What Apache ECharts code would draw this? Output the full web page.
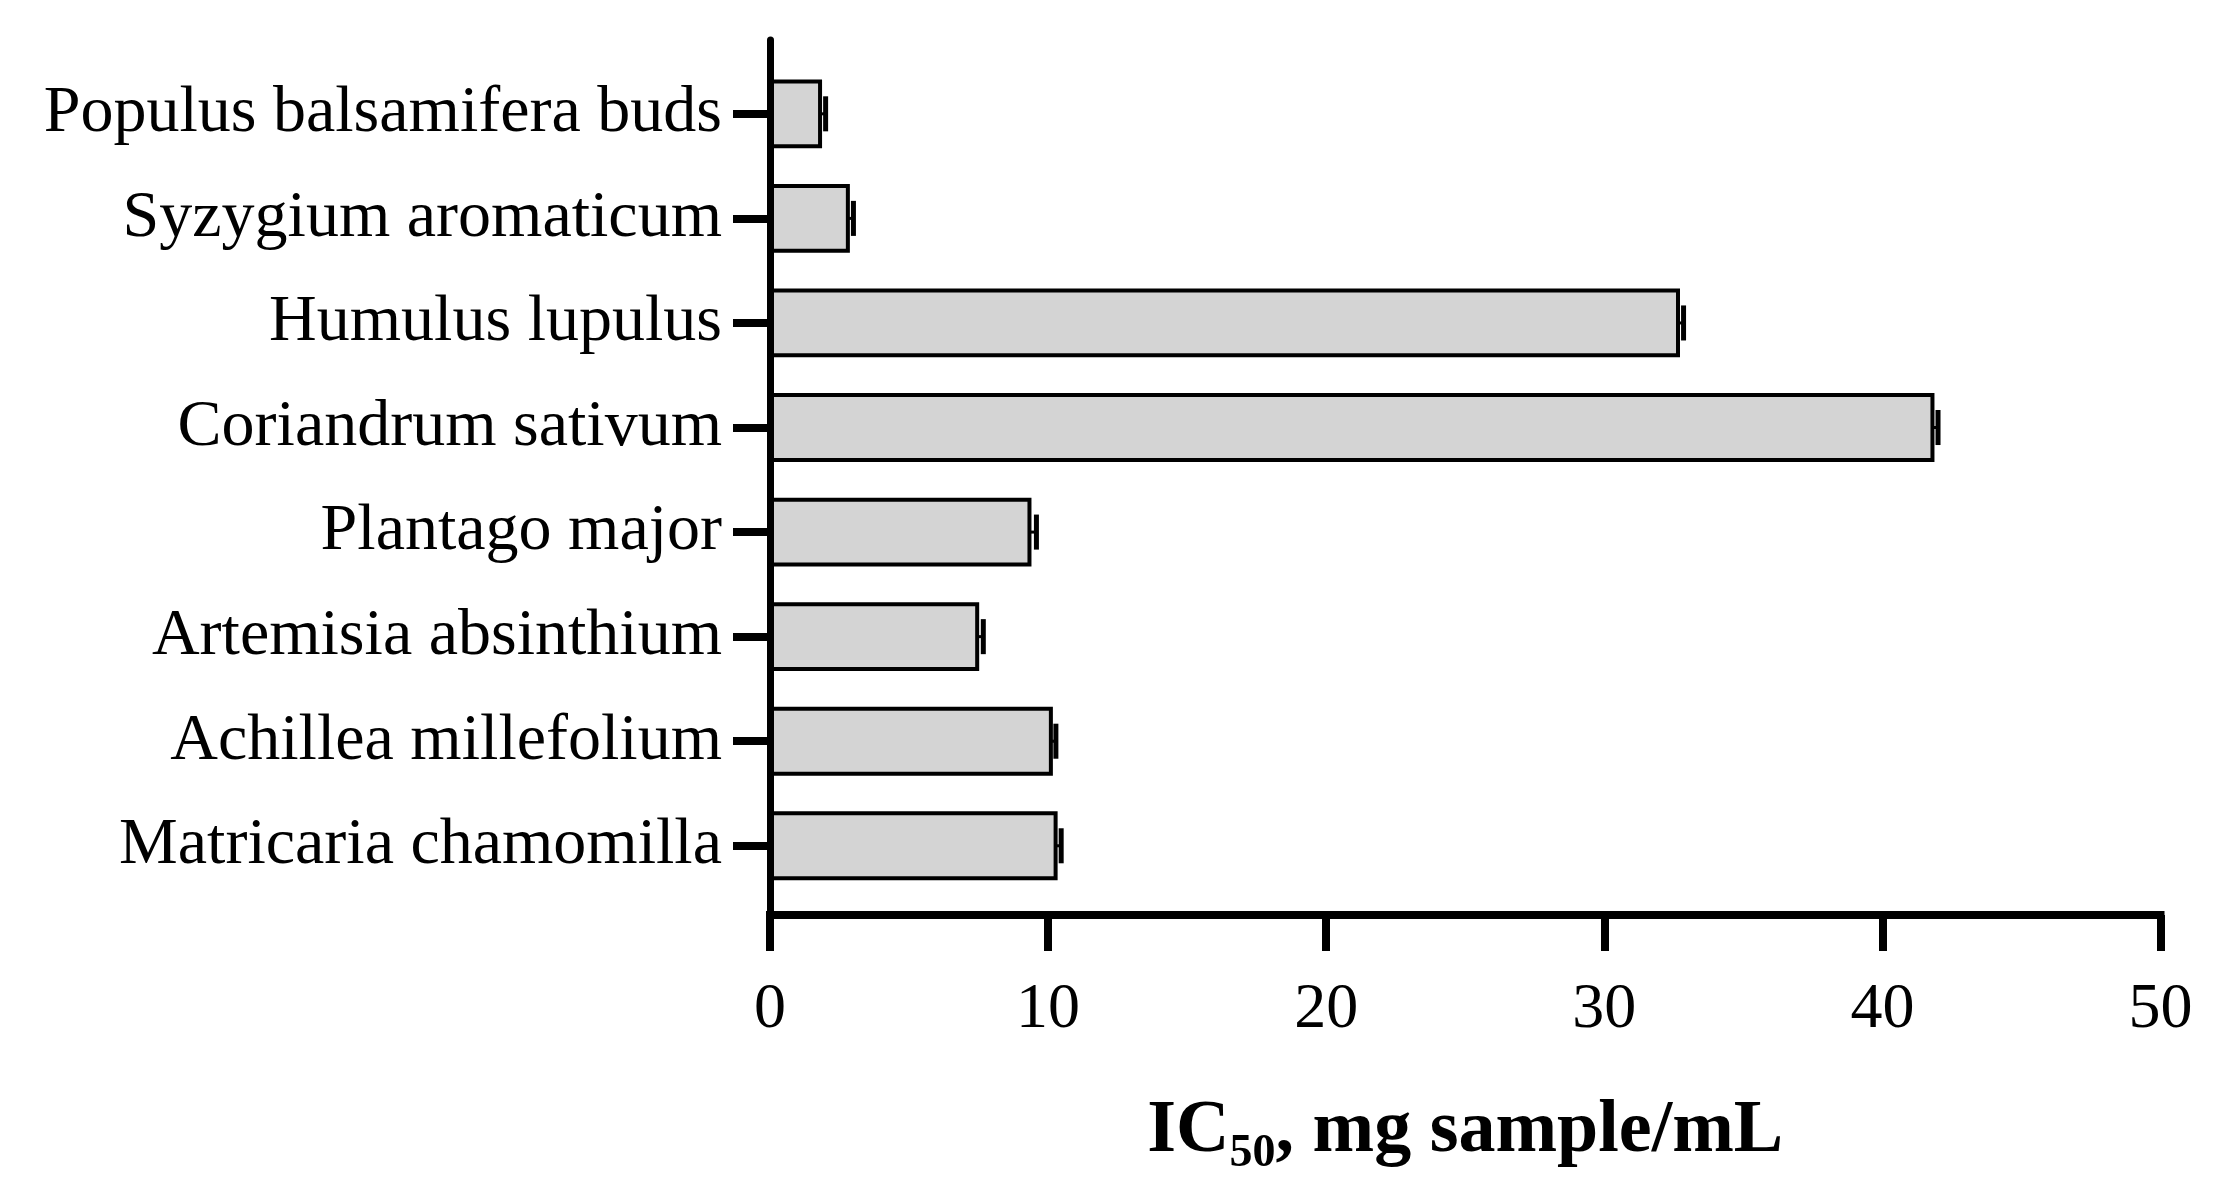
<!DOCTYPE html>
<html>
<head>
<meta charset="utf-8">
<script src="https://cdn.jsdelivr.net/npm/echarts@6/dist/echarts.min.js"></script>
<style>
html, body { margin: 0; padding: 0; background: #fff; }
#chart { width: 2222px; height: 1202px; }
</style>
</head>
<body>
<div id="chart"></div>
<script>
// extracts, top to bottom
var categories = [
  'Populus balsamifera buds',
  'Syzygium aromaticum',
  'Humulus lupulus',
  'Coriandrum sativum',
  'Plantago major',
  'Artemisia absinthium',
  'Achillea millefolium',
  'Matricaria chamomilla'
]
var ic50 = [1.8, 2.8, 32.65, 41.8, 9.33, 7.45, 10.1, 10.27]
var sem = [0.2, 0.2, 0.2, 0.2, 0.25, 0.22, 0.18, 0.2]
var xTicks = [0, 10, 20, 30, 40, 50]

var serif = '"Liberation Serif", "DejaVu Serif", serif'
var rows = categories.map(function (c, i) { return [ic50[i], i, sem[i]] })
var rowIdx = categories.map(function (c, i) { return i })

function renderBar (params, api) {
  var v = api.value(0)
  var idx = api.value(1)
  var err = api.value(2)
  var start = api.coord([0, idx])
  var end = api.coord([v, idx])
  var tip = api.coord([v + err, idx])
  var band = Math.abs(api.size([0, 1])[1])
  var h = band * 0.62
  var capH = band * 0.335
  return {
    type: 'group',
    children: [
      {
        type: 'rect',
        shape: { x: start[0], y: start[1] - h / 2, width: end[0] - start[0], height: h },
        style: { fill: '#d4d4d4', stroke: '#000', lineWidth: 4 }
      },
      {
        type: 'line',
        shape: { x1: end[0], y1: end[1], x2: tip[0], y2: tip[1] },
        style: { stroke: '#000', lineWidth: 3 }
      },
      {
        type: 'line',
        shape: { x1: tip[0], y1: tip[1] - capH / 2, x2: tip[0], y2: tip[1] + capH / 2 },
        style: { stroke: '#000', lineWidth: 5 }
      }
    ]
  }
}

var chart = echarts.init(document.getElementById('chart'))
chart.setOption({
  animation: false,
  backgroundColor: '#fff',
  grid: { left: 770, right: 61.5, top: 40, bottom: 287 },
  xAxis: {
    type: 'value',
    min: xTicks[0],
    max: xTicks[xTicks.length - 1],
    interval: 10,
    z: 10,
    splitLine: { show: false },
    axisLine: { onZero: false, lineStyle: { color: '#000', width: 8, cap: 'square' } },
    axisTick: { length: 36, lineStyle: { color: '#000', width: 8 } },
    axisLabel: { margin: 63, fontSize: 64, fontFamily: serif, color: '#000' },
    name: '{a|IC}{s|50}{a|, mg sample/mL}',
    nameLocation: 'middle',
    nameGap: 172,
    nameTextStyle: {
      rich: {
        a: { fontSize: 74, fontWeight: 'bold', fontFamily: serif, color: '#000', lineHeight: 90 },
        s: { fontSize: 46, fontWeight: 'bold', fontFamily: serif, color: '#000', lineHeight: 74, verticalAlign: 'bottom' }
      }
    }
  },
  yAxis: {
    type: 'value',
    inverse: true,
    min: -0.706,
    max: 7.662,
    z: 10,
    splitLine: { show: false },
    axisLine: { show: true, onZero: false, lineStyle: { color: '#000', width: 7 } },
    axisTick: { show: true, customValues: rowIdx, length: 37, lineStyle: { color: '#000', width: 8 } },
    axisLabel: {
      customValues: rowIdx,
      margin: 48,
      fontSize: 66,
      fontFamily: serif,
      color: '#000',
      padding: [22, 0, 0, 0],
      formatter: function (v) { return categories[v] }
    }
  },
  series: [
    {
      type: 'custom',
      renderItem: renderBar,
      encode: { x: 0, y: 1 },
      data: rows,
      z: 2
    }
  ]
})
</script>
</body>
</html>
